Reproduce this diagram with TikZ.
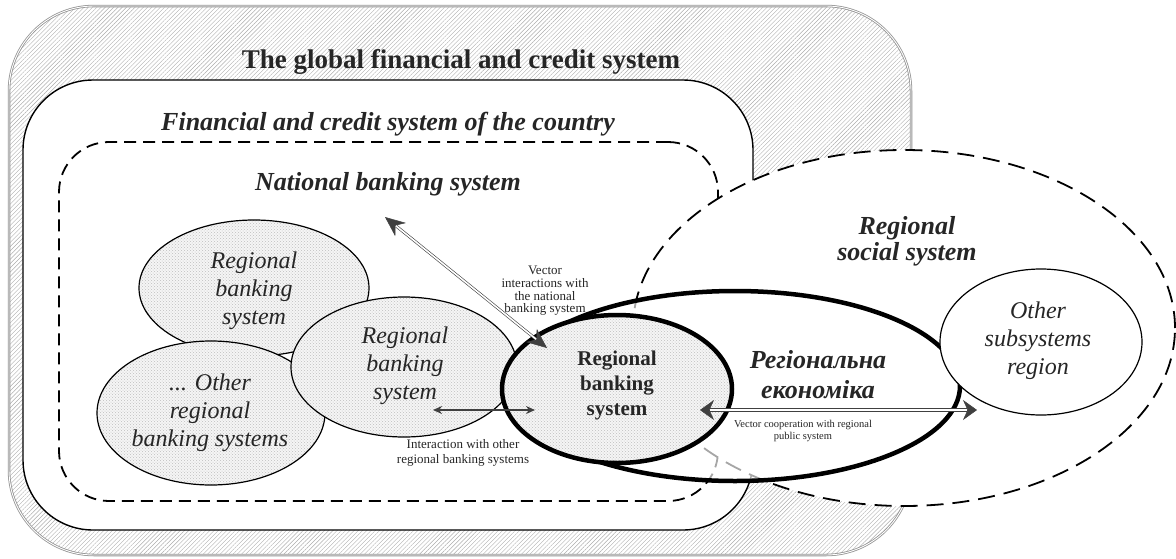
\documentclass[tikz,border=0pt]{standalone}
\usepackage{fontspec}
\setmainfont{Liberation Serif}
\usetikzlibrary{shapes.geometric,patterns,patterns.meta,arrows.meta}
\definecolor{arr}{HTML}{404040}
\definecolor{txt}{HTML}{262626}
\begin{document}
\begin{tikzpicture}[x=1pt,y=-1pt,
  hatchbox/.style={rectangle, inner sep=0pt, rounded corners=85pt,
    pattern={Lines[angle=45,distance=3pt,line width=0.4pt]}, pattern color=gray!65,
    draw=gray!85, line width=0.8pt, double=white, double distance=0.9pt},
  solidbox/.style={rectangle, inner sep=0pt, rounded corners=70pt, draw=black, line width=1.4pt, fill=white},
  dashbox/.style={rectangle, inner sep=0pt, rounded corners=50pt, draw=black, line width=1.8pt, dash pattern=on 12pt off 7pt},
  dotfill/.style={preaction={fill=gray!8}, pattern=crosshatch dots, pattern color=gray!50},
  ell/.style={ellipse, inner sep=0pt},
  thinell/.style={ell, draw=black, line width=1.2pt},
  ittext/.style={font=\fontsize{24}{28}\selectfont\itshape, text=txt, align=center},
  bititle/.style={font=\fontsize{26}{30}\selectfont\bfseries\itshape, text=txt, align=center},
  small/.style={text=txt, align=center, inner sep=0pt},
  arrline/.style={draw=arr},
]
\useasboundingbox (0,0) rectangle (1176,558);

% outer global box
\node[hatchbox, minimum width=902pt, minimum height=549pt] (glob) at (460,280.5) {};
% country box
\node[solidbox, minimum width=730pt, minimum height=450pt] (country) at (388,305) {};
% national dashed box
\node[dashbox, minimum width=659pt, minimum height=359pt] (national) at (388.5,321.5) {};

\node[font=\fontsize{27}{30}\selectfont\bfseries, text=txt, anchor=base] (tGlobal) at (461,68) {The global financial and credit system};
\node[bititle, anchor=base] (tCountry) at (388,130) {Financial and credit system of the country};
\node[bititle, anchor=base] (tNational) at (388,190) {National banking system};

% regional banking ellipses
\node[thinell, dotfill, minimum width=230pt, minimum height=136pt] (rb1) at (254,288) {};
\node[thinell, dotfill, minimum width=228pt, minimum height=144pt] (rbo) at (211,413) {};
\node[thinell, dotfill, minimum width=226pt, minimum height=140pt] (rb2) at (404,367) {};
\node[ittext] (trb1) at (254,291) {Regional\\banking\\system};
\node[ittext] (trbo) at (210,413) {... Other\\regional\\banking systems};
\node[ittext] (trb2) at (405,366) {Regional\\banking\\system};

\node[small, font=\fontsize{13}{12.7}\selectfont] (lNat) at (545,291) {Vector\\interactions with\\the national\\banking system};
\node[small, font=\fontsize{13}{15}\selectfont] (lInt) at (463,453) {Interaction with other\\regional banking systems};

% regional social system
\node[ell, draw=black, fill=white, line width=1.8pt, dash pattern=on 17pt off 9pt,
      minimum width=542pt, minimum height=356pt] (social) at (904,328) {};
\node[bititle, font=\fontsize{26}{26}\selectfont\bfseries\itshape] (tsocial) at (907,241) {Regional\\social system};

% regional economy (semi-opaque white) and central banking system
\node[ell, fill=white, fill opacity=0.65, minimum width=450pt, minimum height=190pt] (econfill) at (735,386) {};
\node[ell, draw=black, line width=4.5pt, minimum width=450pt, minimum height=190pt] (econ) at (735,386) {};
\node[ell, dotfill, draw=black, line width=4.5pt, minimum width=230pt, minimum height=148pt] (rbc) at (617,389) {};

% other subsystems
\node[thinell, fill=white, minimum width=202pt, minimum height=146pt] (oth) at (1041,342) {};
\node[ittext] (toth) at (1038,341) {Other\\subsystems\\region};

\node[font=\fontsize{21}{25}\selectfont\bfseries, text=txt, align=center] (trbc) at (617,385) {Regional\\banking\\system};
\node[bititle] (tecon) at (818,375) {Регіональна\\економіка};
\node[small, font=\fontsize{10.5}{12}\selectfont] (lEcon) at (803,431) {Vector cooperation with regional\\public system};

% connectors
\coordinate (natIn) at (547,348);
\coordinate (natTip) at (385,217);
\coordinate (hL) at (433,410);
\coordinate (hR) at (535,410);
\coordinate (eL) at (700,410);
\coordinate (eR) at (977,410);

\draw[arrline, line width=0.5pt, {Stealth[length=20pt,width=17pt]}-{Stealth[length=20pt,width=17pt]}] (natIn) -- (natTip);
\draw[arrline, line width=0.6pt, double=white, double distance=1.6pt, shorten <=14pt, shorten >=14pt] (natIn) -- (natTip);

\draw[arrline, line width=1.6pt, {Stealth[length=9pt,width=8pt]}-{Stealth[length=9pt,width=8pt]}] (hL) -- (hR);

\draw[arrline, line width=0.5pt, {Stealth[length=14pt,width=20pt]}-{Stealth[length=14pt,width=20pt]}] (eL) -- (eR);
\draw[arrline, line width=0.8pt, double=white, double distance=1.8pt, shorten <=10pt, shorten >=10pt] (eL) -- (eR);
\end{tikzpicture}
\end{document}
